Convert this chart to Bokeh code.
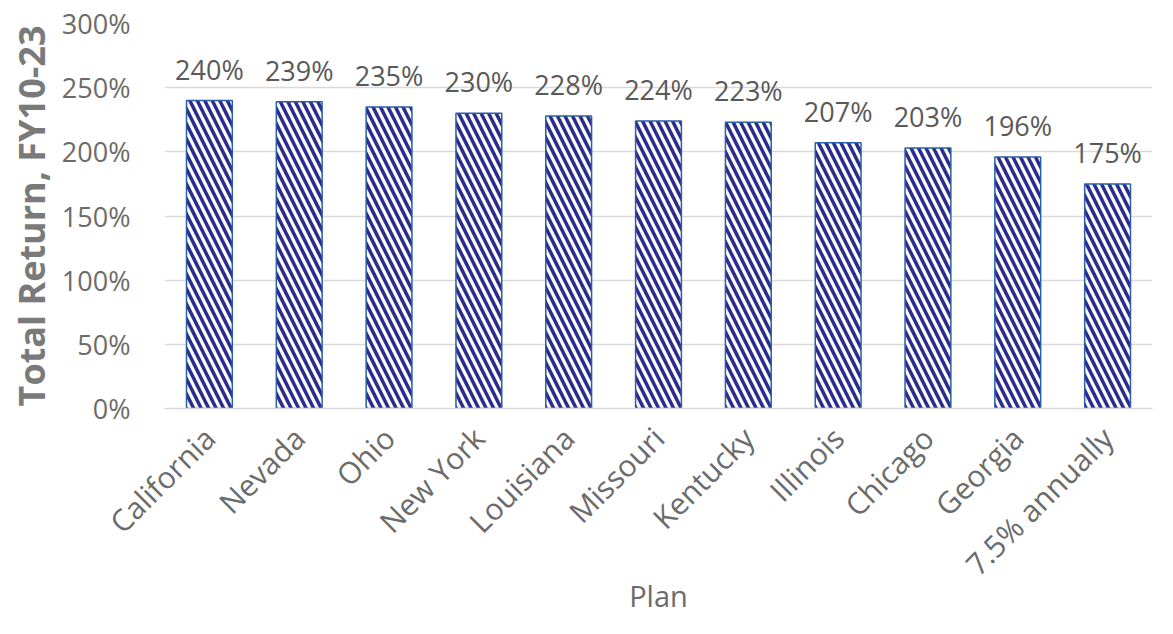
from bokeh.plotting import figure
from bokeh.models import ColumnDataSource, PrintfTickFormatter, FixedTicker, Range1d
from bokeh.core.properties import value
from bokeh.embed import file_html
from bokeh.resources import INLINE
import math

plans = ["California", "Nevada", "Ohio", "New York", "Louisiana", "Missouri",
         "Kentucky", "Illinois", "Chicago", "Georgia", "7.5% annually"]
returns = [240, 239, 235, 230, 228, 224, 223, 207, 203, 196, 175]
labels = [f"{v}%" for v in returns]
y_ticks = [0, 50, 100, 150, 200, 250, 300]
x_title = "Plan"
y_title = "Total Return, FY10-23"

FONT = "Open Sans"
TXT = "#6b6b6b"

src = ColumnDataSource(dict(plan=plans, ret=returns, lab=labels))

p = figure(x_range=plans, y_range=Range1d(0, 300), width=1157, height=618,
           output_backend="svg", toolbar_location=None,
           min_border_left=164, min_border_right=5, min_border_top=23, min_border_bottom=210)
p.outline_line_color = None

p.vbar(x="plan", top="ret", width=0.51, source=src, fill_color="white",
       line_color="#2a5ea8", line_width=1.5,
       hatch_pattern="\\", hatch_color="#2b2d8c", hatch_weight=3.5, hatch_scale=15)

p.text(x="plan", y="ret", text="lab", source=src, text_align="center", text_baseline="bottom",
       y_offset=-13, text_font=value(FONT), text_font_size="27px", text_color="#595959")

p.xgrid.grid_line_color = None
p.ygrid.grid_line_color = "#d9d9d9"
p.ygrid.grid_line_width = 1.5

p.yaxis.ticker = FixedTicker(ticks=y_ticks)
p.yaxis.formatter = PrintfTickFormatter(format="%d%%")
p.yaxis.axis_line_color = None
p.yaxis.major_tick_line_color = None
p.yaxis.minor_tick_line_color = None
p.yaxis.major_label_standoff = 28
p.yaxis.major_label_text_font = FONT
p.yaxis.major_label_text_font_size = "27px"
p.yaxis.major_label_text_color = TXT
p.yaxis.axis_label = y_title
p.yaxis.axis_label_text_font = FONT
p.yaxis.axis_label_text_font_style = "bold"
p.yaxis.axis_label_text_font_size = "36px"
p.yaxis.axis_label_text_color = "#7a7a7a"
p.yaxis.axis_label_standoff = 3

p.xaxis.axis_line_color = "#d9d9d9"
p.xaxis.axis_line_width = 1.5
p.xaxis.major_tick_line_color = None
p.xaxis.minor_tick_line_color = None
p.xaxis.major_label_orientation = math.pi / 4
p.xaxis.major_label_standoff = 18
p.xaxis.major_label_text_font = FONT
p.xaxis.major_label_text_font_size = "30px"
p.xaxis.major_label_text_color = TXT
p.xaxis.axis_label = x_title
p.xaxis.axis_label_text_font = FONT
p.xaxis.axis_label_text_font_style = "normal"
p.xaxis.axis_label_text_font_size = "29px"
p.xaxis.axis_label_text_color = TXT
p.xaxis.axis_label_standoff = -25

open("out.html", "w").write(file_html(p, INLINE))
